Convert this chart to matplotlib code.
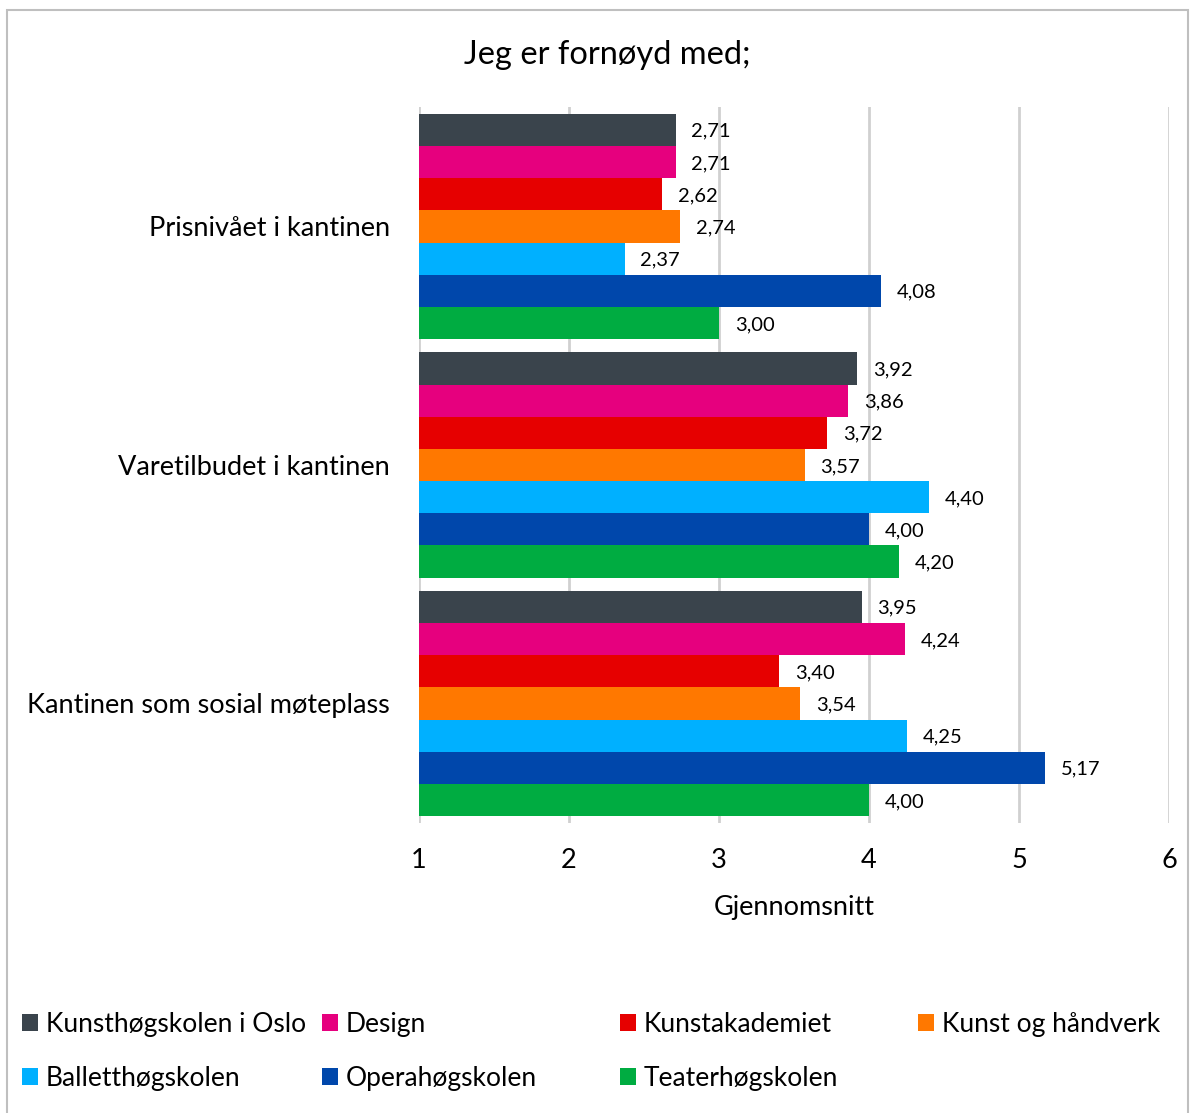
import numpy as np
import matplotlib.pyplot as plt
from matplotlib.patches import Rectangle

plt.rcParams['font.family'] = ['Lato', 'DejaVu Sans']

categories = ["Prisnivået i kantinen", "Varetilbudet i kantinen", "Kantinen som sosial møteplass"]
schools = ["Kunsthøgskolen i Oslo", "Design", "Kunstakademiet", "Kunst og håndverk",
           "Balletthøgskolen", "Operahøgskolen", "Teaterhøgskolen"]
colors = ["#3A444C", "#E6007E", "#E60000", "#FF7800", "#00B0FF", "#0047AB", "#00AC41"]
values = [
    [2.71, 3.92, 3.95],
    [2.71, 3.86, 4.24],
    [2.62, 3.72, 3.40],
    [2.74, 3.57, 3.54],
    [2.37, 4.40, 4.25],
    [4.08, 4.00, 5.17],
    [3.00, 4.20, 4.00],
]
xticks = [1, 2, 3, 4, 5, 6]

W, H = 1194, 1113
fig = plt.figure(figsize=(W / 100, H / 100), dpi=100)
ax = fig.add_axes([419 / W, 1 - 822.75 / H, 750 / W, 715.5 / H])

n = len(schools)
bh = 0.945 / n
ypos = np.arange(len(categories))
bars = []
for i, (name, col, vals) in enumerate(zip(schools, colors, values)):
    y = ypos - 0.945 / 2 + bh * (i + 0.5)
    b = ax.barh(y, np.array(vals) - 1, left=1, height=bh, color=col, label=name, zorder=3)
    bars.append(b)
    for yy, v in zip(y, vals):
        ax.annotate(f"{v:.2f}".replace('.', ','), (v, yy), xytext=(11.5, -1),
                    textcoords='offset points', va='center', ha='left', fontsize=14.5, zorder=4)

ax.set_xlim(1, 6)
ax.set_ylim(2.5, -0.5)
ax.set_xticks(xticks)
ax.set_yticks(ypos)
ax.set_yticklabels(categories, fontsize=19.5)
ax.tick_params(axis='x', labelsize=19.5, length=0, pad=18)
ax.tick_params(axis='y', length=0, pad=21)
ax.grid(axis='x', color='#D0D0D0', linewidth=2, zorder=0)
for s in ax.spines.values():
    s.set_visible(False)
ax.set_xlabel("Gjennomsnitt", fontsize=19.5, labelpad=16)

fig.text(607 / W, 1 - 55 / H, "Jeg er fornøyd med;", fontsize=23.5, ha='center', va='center')

# legend columns laid out like Excel: fixed column spacing
cols = [[0, 4], [1, 5], [2, 6], [3]]
col_x = [22, 322, 620, 918]
for cx, idx in zip(col_x, cols):
    fig.legend([bars[k] for k in idx], [schools[k] for k in idx],
               loc='upper left', bbox_to_anchor=(cx / W, 1 - 1012 / H),
               frameon=False, fontsize=19, handlelength=0.6, handleheight=0.6,
               handletextpad=0.3, labelspacing=1.1, borderpad=0, borderaxespad=0)

fig.add_artist(Rectangle((7 / W, -0.01), 1181 / W, 1 - 10 / H + 0.01, transform=fig.transFigure,
                         fill=False, edgecolor='#BFBFBF', linewidth=1.5))

fig.savefig("out.png", dpi=100)
